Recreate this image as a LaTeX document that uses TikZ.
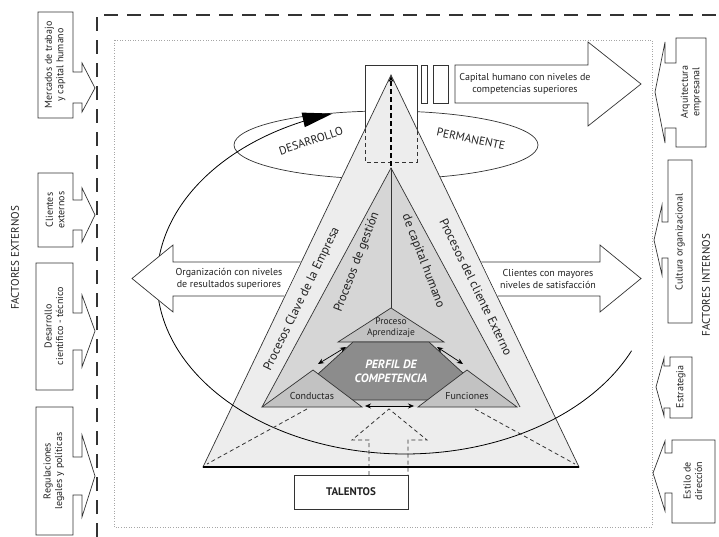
\documentclass[tikz,border=0pt]{standalone}
\usepackage{fontspec}
\setmainfont{PT Sans}
\usetikzlibrary{arrows.meta}
\definecolor{lineC}{HTML}{333333}
\definecolor{textC}{HTML}{222222}
\definecolor{bandC}{HTML}{EDEDED}
\definecolor{innerC}{HTML}{D6D6D6}
\definecolor{smallC}{HTML}{C2C2C2}
\definecolor{hexC}{HTML}{8C8C8C}
\begin{document}
\begin{tikzpicture}[x=1pt,y=-1pt,
  ln/.style={draw=lineC, line width=0.7pt, line join=miter},
  txt/.style={font=\fontsize{10}{11.5}\selectfont, align=center, inner sep=0pt, text=textC},
  sidetxt/.style={font=\fontsize{12.5}{14}\selectfont, inner sep=0pt, text=textC},
  dsh/.style={draw=lineC, line width=0.8pt, dash pattern=on 4pt off 3pt},
  darr/.style={draw=black, line width=0.7pt, {Stealth[length=6pt,width=5pt]}-{Stealth[length=6pt,width=5pt]}}
]
\useasboundingbox (0,0) rectangle (719,537);
\fill[white] (0,0) rectangle (719,537);

% borders
\draw[draw=lineC, line width=1.1pt, dash pattern=on 14pt off 9pt] (97,537) -- (97,15) -- (719,15);
\draw[draw=gray!70, line width=0.6pt, dotted] (114,40) rectangle (652,527);

% left boxes (external factors)
\draw[ln, fill=white] (38,12) -- (73,12) -- (73,72) -- (82,72) -- (82,63) -- (95,88) -- (82,112) -- (82,103) -- (73,103) -- (73,118) -- (38,118) -- cycle;
\node[txt, rotate=90] (ext1) at (55,65) {Mercados de trabajo\\y capital humano};
\draw[ln, fill=white] (38,173) -- (73,173) -- (73,200) -- (82,200) -- (82,188) -- (95,215) -- (82,242) -- (82,230) -- (73,230) -- (73,247) -- (38,247) -- cycle;
\node[txt, rotate=90] (ext2) at (55,210) {Clientes\\externos};
\draw[ln, fill=white] (36,263) -- (73,263) -- (73,313) -- (82,313) -- (82,295) -- (95,331) -- (82,367) -- (82,350) -- (73,350) -- (73,390) -- (36,390) -- cycle;
\node[txt, rotate=90] (ext3) at (54,326) {Desarrollo\\científico - técnico};
\draw[ln, fill=white] (36,407) -- (73,407) -- (73,457) -- (82,457) -- (82,435) -- (95,476) -- (82,517) -- (82,495) -- (73,495) -- (73,535) -- (36,535) -- cycle;
\node[txt, rotate=90] (ext4) at (54,471) {Regulaciones\\legales y políticas};
\node[txt, font=\fontsize{11}{12}\selectfont, rotate=90] (fext) at (15,258) {FACTORES EXTERNOS};

% right boxes (internal factors)
\draw[ln, fill=white] (706,38) -- (676,38) -- (676,63) -- (665,63) -- (665,42) -- (655,92) -- (665,143) -- (665,128) -- (676,128) -- (676,147) -- (706,147) -- cycle;
\node[txt, rotate=90] (int1) at (691,92) {Arquitectura\\empresanal};
\draw[ln, fill=white] (692,160) -- (668,160) -- (668,222) -- (662,222) -- (662,205) -- (654,240) -- (662,275) -- (662,258) -- (668,258) -- (668,323) -- (692,323) -- cycle;
\node[txt, rotate=90] (int2) at (680,242) {Cultura organizacional};
\draw[ln, fill=white] (692,357) -- (670,357) -- (670,366) -- (664,366) -- (664,358) -- (656,387) -- (664,416) -- (664,408) -- (670,408) -- (670,418) -- (692,418) -- cycle;
\node[txt, rotate=90] (int3) at (681,387) {Estrategia};
\draw[ln, fill=white] (715,440) -- (672,440) -- (672,453) -- (665,453) -- (665,441) -- (653,473) -- (665,511) -- (665,493) -- (672,493) -- (672,523) -- (715,523) -- cycle;
\node[txt, rotate=90] (int4) at (693,481) {Estilo de\\dirección};
\node[txt, font=\fontsize{11}{12}\selectfont, rotate=90] (fint) at (706,285) {FACTORES INTERNOS};

% small ellipse
\draw[ln, fill=white] (386,145) ellipse [x radius=152pt, y radius=34pt];
\node[txt, font=\fontsize{11.5}{12}\selectfont, rotate=18] (des) at (311,141) {DESARROLLO};
\node[txt, font=\fontsize{11.5}{12}\selectfont, rotate=-12] (per) at (471,139) {PERMANENTE};

% top rectangle and bars
\filldraw[ln, fill=white] (365,150) -- (365,65) -- (417,65) -- (417,150);
\draw[ln] (421,65) rectangle (427,103);
\draw[ln] (433,65) rectangle (448,103);

% capital humano arrow
\draw[ln, fill=white] (455,65) -- (588,65) -- (588,42) -- (641,84) -- (588,126) -- (588,103) -- (455,103) -- cycle;
\node[txt] (cap) at (525,84) {Capital humano con niveles de\\competencias superiores};

% outer triangle
\coordinate (A) at (391,75);
\coordinate (BL) at (203,467);
\coordinate (BR) at (579,467);
\draw[ln, fill=bandC] (A) -- (BL) -- (BR) -- cycle;

% hidden rectangle part
\draw[draw=lineC, line width=0.7pt, dash pattern=on 4pt off 3pt] (365,129) -- (365,162) -- (417,162) -- (417,129);

% inner triangle
\fill[innerC] (391,168) -- (262,407) -- (520,407) -- cycle;
\draw[ln] (262,407) -- (391,168) -- (520,407);
\draw[ln] (391,168) -- (391,308);

% dashed centre line
\draw[draw=black, line width=1.1pt, dash pattern=on 5pt off 3pt, -{Stealth[length=6pt,width=5pt]}] (391,166) -- (391,76);

% side texts
\node[sidetxt, rotate=64] (pce) at (302,299) {Procesos Clave de la Empresa};
\node[sidetxt, rotate=69] (pg) at (357,262) {Procesos de gestión};
\node[sidetxt, rotate=-69] (pch) at (423,261) {de capital humano};
\node[sidetxt, rotate=-64] (pcl) at (476,287) {Procesos del cliente Externo};

% big development loop
\draw[draw=black, line width=0.8pt] plot[domain=24:246, samples=160, variable=\t] ({405+248*cos(\t)},{280+174*sin(\t)});
\fill[black] (332.5,113.6) -- (304.8,127.2) -- (301.6,112.6) -- cycle;

% organization arrow
\draw[ln, fill=white] (300.6,262) -- (173,262) -- (173,245) -- (132,278.5) -- (173,312) -- (173,296) -- (284.3,296);
\node[txt] (org) at (229,279) {Organización con niveles\\de resultados superiores};

% clients arrow
\draw[ln, fill=white] (481.4,262) -- (600,262) -- (600,245) -- (641,278.5) -- (600,312) -- (600,296) -- (497.7,296);
\node[txt] (cli) at (548,279) {Clientes con mayores\\niveles de satisfacción};

% learning triangle
\draw[ln, fill=smallC] (391,308) -- (338,342) -- (444,342) -- cycle;
\node[txt, font=\fontsize{9.5}{11}\selectfont] (apr) at (391,328) {Proceso\\Aprendizaje};

% hexagon
\draw[ln, fill=hexC] (353,342) -- (429,342) -- (464,374) -- (444,400) -- (338,400) -- (318,374) -- cycle;
\node[txt, font=\fontsize{12}{14}\selectfont\bfseries\itshape, text=white] (perfil) at (391,371) {PERFIL DE\\COMPETENCIA};

% conducts / functions
\draw[ln, fill=smallC] (313,370) -- (262,407) -- (362,407) -- cycle;
\node[txt] (cond) at (312,396) {Conductas};
\draw[ln, fill=smallC] (467,370) -- (418,407) -- (517,407) -- cycle;
\node[txt] (fun) at (467,396) {Funciones};

% double arrows
\draw[darr] (318,364) -- (346,347);
\draw[darr] (437,347) -- (463,364);
\draw[darr] (365,406) -- (414,406);

% dashed hidden lines
\draw[dsh] (307,409) -- (207,464);
\draw[dsh] (475,409) -- (575,464);
\draw[dsh] (369,475) -- (369,440) -- (352,440) -- (389,409) -- (427,440) -- (408,440) -- (408,475);

% base line
\draw[black, line width=2pt] (BL) -- (BR);

% talents box
\draw[ln, fill=white] (294,475) rectangle (408,509);
\node[txt, font=\fontsize{11}{12}\selectfont\bfseries] (tal) at (351,492) {TALENTOS};
\end{tikzpicture}
\end{document}
